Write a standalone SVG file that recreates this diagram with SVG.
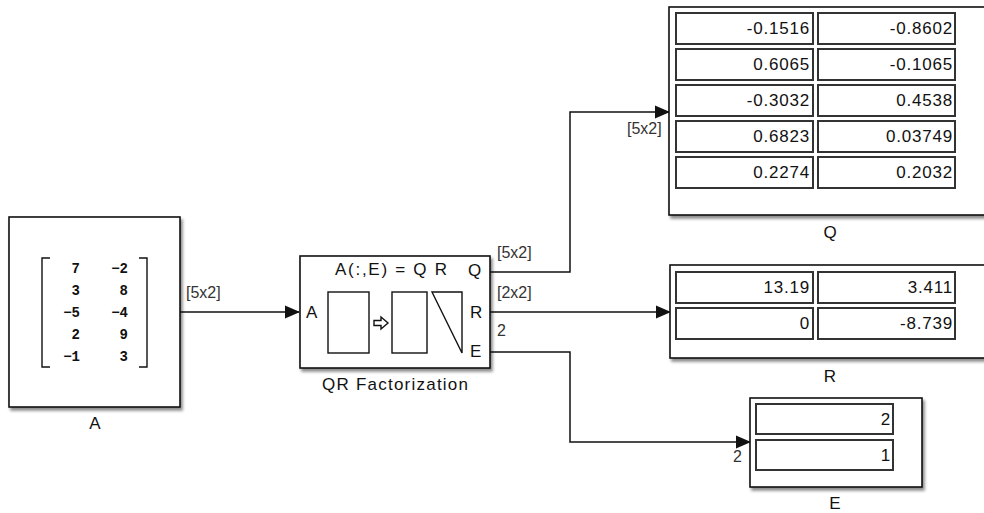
<svg xmlns="http://www.w3.org/2000/svg" width="984" height="513" viewBox="0 0 984 513">
<style>
text{font-family:"Liberation Sans",Arial,sans-serif;fill:#111}
.blk{fill:#fff;stroke:#111;stroke-width:1.6;filter:url(#sh)}
.in{fill:none;stroke:#111;stroke-width:1.4}
.cell{fill:#fff;stroke:#333;stroke-width:2}
.val{font-size:17px;text-anchor:end;letter-spacing:0.8px}
.port{font-size:17px}
.name{font-size:17px;text-anchor:middle}
.sig{font-size:16px;fill:#333}
.mat{font-family:"Liberation Mono","Courier New",monospace;font-weight:bold;font-size:14px;text-anchor:end}
.wire{fill:none;stroke:#111;stroke-width:1.5}
</style>
<defs>
<filter id="sh" x="-10%" y="-10%" width="130%" height="130%">
<feDropShadow dx="2" dy="3" stdDeviation="1.8" flood-color="#000" flood-opacity="0.45"/>
</filter>
<marker id="ar" markerUnits="userSpaceOnUse" markerWidth="16" markerHeight="14" viewBox="0 -7 15 14" refX="14" refY="0" orient="auto">
<path d="M0,-6.5 L15,0 L0,6.5 Z" fill="#111"/>
</marker>
</defs>
<rect width="984" height="513" fill="#fff"/>

<g id="connectors">
<path class="wire" d="M180,312 H299" marker-end="url(#ar)"/>
<path class="wire" d="M490,272 H570 V112 H669" marker-end="url(#ar)"/>
<path class="wire" d="M490,312 H670" marker-end="url(#ar)"/>
<path class="wire" d="M490,352 H570 V442 H750" marker-end="url(#ar)"/>
<text class="sig" x="186" y="298">[5x2]</text>
<text class="sig" x="497" y="258">[5x2]</text>
<text class="sig" x="497" y="298">[2x2]</text>
<text class="sig" x="497" y="336">2</text>
<text class="sig" x="627" y="134">[5x2]</text>
<text class="sig" x="733" y="462">2</text>
</g>

<g id="A">
<rect class="blk" x="9" y="217" width="171" height="190"/>
<path class="in" d="M50,258 H42 V367 H50 M139,258 H147 V367 H139"/>
<text class="mat" x="80" y="273">7</text><text class="mat" x="128" y="273">−2</text>
<text class="mat" x="80" y="295">3</text><text class="mat" x="128" y="295">8</text>
<text class="mat" x="80" y="317">−5</text><text class="mat" x="128" y="317">−4</text>
<text class="mat" x="80" y="339">2</text><text class="mat" x="128" y="339">9</text>
<text class="mat" x="80" y="361">−1</text><text class="mat" x="128" y="361">3</text>
<text class="name" x="95" y="429">A</text>
</g>

<g id="QR">
<rect class="blk" x="300" y="256" width="190" height="112"/>
<text class="port" x="335" y="275" textLength="112" lengthAdjust="spacing">A(:,E) = Q R</text>
<text class="port" x="306" y="318">A</text>
<text class="port" x="468" y="276">Q</text>
<text class="port" x="470" y="318">R</text>
<text class="port" x="470" y="357">E</text>
<rect class="in" x="328" y="292" width="41" height="61"/>
<rect class="in" x="392" y="292" width="35" height="61"/>
<path class="in" d="M432,292 H462 V353 Z"/>
<polygon class="in" points="374,320.5 381,320.5 381,317 388,323 381,329 381,325.5 374,325.5" stroke-width="1.2"/>
<text class="name" x="395" y="390" textLength="146" lengthAdjust="spacing">QR Factorization</text>
</g>

<g id="Q">
<rect class="blk" x="669" y="7" width="330" height="208"/>
<rect class="cell" x="676" y="13" width="137" height="31"/><rect class="cell" x="818" y="13" width="137" height="31"/>
<rect class="cell" x="676" y="49" width="137" height="31"/><rect class="cell" x="818" y="49" width="137" height="31"/>
<rect class="cell" x="676" y="85" width="137" height="31"/><rect class="cell" x="818" y="85" width="137" height="31"/>
<rect class="cell" x="676" y="121" width="137" height="31"/><rect class="cell" x="818" y="121" width="137" height="31"/>
<rect class="cell" x="676" y="157" width="137" height="31"/><rect class="cell" x="818" y="157" width="137" height="31"/>
<text class="val" x="810" y="34">-0.1516</text><text class="val" x="953" y="34">-0.8602</text>
<text class="val" x="810" y="70">0.6065</text><text class="val" x="953" y="70">-0.1065</text>
<text class="val" x="810" y="106">-0.3032</text><text class="val" x="953" y="106">0.4538</text>
<text class="val" x="810" y="142">0.6823</text><text class="val" x="953" y="142">0.03749</text>
<text class="val" x="810" y="178">0.2274</text><text class="val" x="953" y="178">0.2032</text>
<text class="name" x="830" y="238">Q</text>
</g>

<g id="R">
<rect class="blk" x="670" y="265" width="330" height="93"/>
<rect class="cell" x="676" y="272" width="137" height="31"/><rect class="cell" x="818" y="272" width="137" height="31"/>
<rect class="cell" x="676" y="308" width="137" height="31"/><rect class="cell" x="818" y="308" width="137" height="31"/>
<text class="val" x="810" y="293">13.19</text><text class="val" x="953" y="293">3.411</text>
<text class="val" x="810" y="329">0</text><text class="val" x="953" y="329">-8.739</text>
<text class="name" x="830" y="382">R</text>
</g>

<g id="E">
<rect class="blk" x="750" y="398" width="172" height="89"/>
<rect class="cell" x="756" y="404" width="137" height="30"/>
<rect class="cell" x="756" y="440" width="137" height="30"/>
<text class="val" x="891" y="425">2</text>
<text class="val" x="891" y="461">1</text>
<text class="name" x="835" y="509">E</text>
</g>
</svg>
